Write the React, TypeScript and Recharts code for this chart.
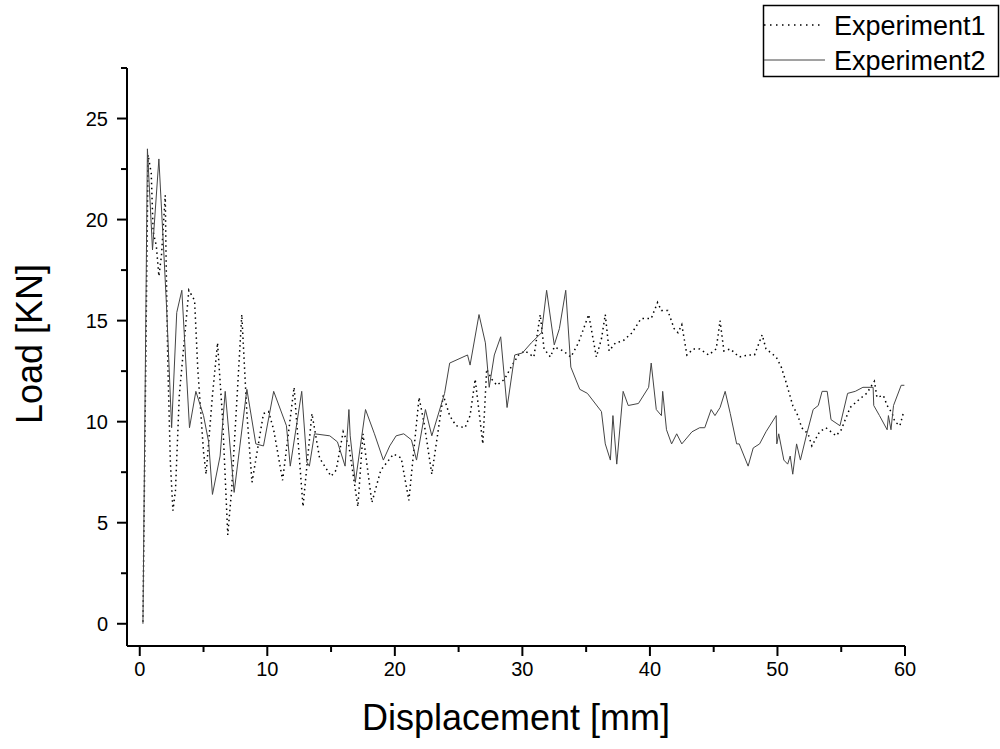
import React from "react";
import { Label, Line, LineChart, XAxis, YAxis } from "recharts";

// Experiment1 (dotted)
const exp1X = [
  0.25, 0.65, 0.9, 1.05, 1.3, 1.5, 1.7, 2.0, 2.05, 2.2, 2.4, 2.6, 2.8, 3.1, 3.85, 4.3, 4.55, 5.0, 5.2, 5.7,
  6.1, 6.5, 6.9, 7.2, 7.6, 8.0, 8.4, 8.8, 9.2, 9.7, 10.1, 10.5, 11.2, 12.1, 12.8, 13.5, 14.1, 15.0, 15.4, 15.95,
  16.4, 17.1, 17.5, 18.2, 18.9, 19.9, 20.5, 21.1, 21.9, 22.3, 22.9, 23.8, 24.3, 24.8, 25.5, 25.9, 26.3, 26.9, 27.2, 27.6,
  28.0, 28.6, 29.2, 29.7, 30.2, 30.9, 31.4, 31.7, 32.2, 32.5, 33.2, 33.8, 34.4, 35.2, 35.4, 35.8, 36.2, 36.5, 36.8, 37.3,
  37.9, 38.6, 39.3, 40.1, 40.6, 40.9, 41.4, 41.9, 42.2, 42.5, 42.9, 43.4, 43.9, 44.6, 45.2, 45.5, 45.8, 46.3, 47.0, 47.7,
  48.2, 48.8, 49.1, 49.9, 50.3, 50.7, 51.2, 51.6, 51.9, 52.4, 52.7, 53.3, 53.8, 54.6, 55.0, 55.7, 56.4, 57.0, 57.6, 57.8,
  58.3, 58.6, 59.0, 59.2, 59.6, 59.9,
];
const exp1Y = [
  0.1, 23.2, 22.3, 19.4, 18.7, 17.2, 18.2, 21.2, 18.7, 12.9, 8.0, 5.6, 6.6, 11.3, 16.5, 16.0, 12.6, 8.5, 7.4, 11.3,
  13.9, 10.1, 4.4, 6.6, 10.9, 15.3, 10.4, 7.0, 8.5, 10.4, 10.5, 9.6, 7.1, 11.7, 5.8, 10.4, 8.2, 7.3, 7.6, 9.5,
  8.8, 5.8, 9.4, 6.0, 7.6, 8.4, 8.2, 6.1, 11.2, 9.9, 7.4, 11.3, 10.3, 9.8, 9.7, 10.3, 12.1, 8.9, 12.6, 12.1,
  11.8, 12.1, 12.8, 13.3, 13.5, 13.2, 15.3, 13.6, 13.2, 13.7, 13.5, 13.2, 13.9, 15.3, 14.6, 13.2, 14.1, 15.3, 13.5, 13.9,
  14.0, 14.4, 15.1, 15.1, 15.9, 15.5, 15.5, 14.6, 14.4, 14.8, 13.3, 13.6, 13.6, 13.3, 13.6, 15.0, 13.5, 13.6, 13.2, 13.3,
  13.3, 14.3, 13.6, 13.2, 12.7, 11.9, 10.8, 10.3, 9.7, 9.4, 8.8, 9.5, 9.7, 9.3, 9.6, 10.7, 11.1, 11.4, 12.0, 11.2,
  11.3, 10.8, 10.4, 10.0, 9.8, 10.5,
];

// Experiment2 (solid)
const exp2X = [
  0.25, 0.6, 1.0, 1.5, 1.9, 2.1, 2.5, 2.9, 3.3, 3.9, 4.4, 5.0, 5.4, 5.7, 6.3, 6.7, 7.4, 8.4, 9.1, 9.7,
  10.5, 11.5, 11.8, 12.7, 13.1, 13.3, 13.7, 14.9, 15.5, 16.1, 16.4, 16.5, 16.9, 17.7, 18.4, 19.1, 19.6, 20.1, 20.7, 21.3,
  21.7, 22.4, 22.9, 23.9, 24.3, 25.7, 25.9, 26.6, 27.1, 27.4, 27.8, 28.3, 28.8, 29.4, 30.0, 30.7, 31.5, 31.9, 32.5, 32.9,
  33.4, 33.8, 34.5, 35.1, 36.2, 36.5, 36.9, 37.1, 37.4, 37.9, 38.3, 39.1, 39.9, 40.1, 40.5, 40.9, 41.0, 41.3, 41.7, 42.1,
  42.5, 43.3, 43.9, 44.3, 44.8, 45.1, 45.5, 45.9, 46.3, 46.8, 47.0, 47.7, 48.1, 48.6, 49.1, 49.9, 49.95, 50.1, 50.5, 50.8,
  51.0, 51.2, 51.5, 51.8, 52.3, 52.8, 53.2, 53.5, 53.9, 54.2, 54.9, 55.5, 56.1, 56.7, 57.5, 57.55, 58.0, 58.6, 58.7, 58.9,
  59.1, 59.7, 59.95,
];
const exp2Y = [
  0, 23.5, 18.5, 23.0, 18.2, 15.7, 9.7, 15.4, 16.5, 9.7, 11.5, 10.3, 9.0, 6.4, 8.3, 11.5, 6.5, 11.6, 8.9, 8.8,
  11.5, 9.8, 7.8, 11.5, 8.0, 7.8, 9.4, 9.3, 9.0, 7.8, 10.6, 9.3, 7.0, 10.6, 9.4, 8.1, 8.8, 9.3, 9.4, 9.1,
  8.1, 10.6, 9.3, 11.4, 12.9, 13.3, 12.8, 15.3, 13.9, 11.7, 13.3, 14.2, 10.7, 13.3, 13.4, 13.9, 14.4, 16.5, 13.8, 14.6,
  16.5, 12.7, 11.6, 11.4, 10.5, 8.9, 8.1, 10.3, 7.9, 11.5, 10.8, 10.9, 11.7, 12.9, 10.6, 10.3, 11.5, 9.6, 8.9, 9.4,
  8.9, 9.5, 9.7, 9.7, 10.6, 10.3, 10.7, 11.5, 10.4, 8.9, 8.9, 7.8, 8.7, 8.9, 9.5, 10.3, 8.9, 9.4, 8.1, 7.9,
  8.3, 7.4, 8.9, 8.1, 9.4, 10.6, 10.8, 11.5, 11.5, 10.1, 9.8, 11.4, 11.5, 11.7, 11.7, 10.8, 10.3, 9.6, 10.3, 9.6,
  10.8, 11.8, 11.8,
];

const xTicks = [0, 5, 10, 15, 20, 25, 30, 35, 40, 45, 50, 55, 60];
const yTicks = [0, 2.5, 5, 7.5, 10, 12.5, 15, 17.5, 20, 22.5, 25, 27.5];

const exp1 = exp1X.map((x, i) => ({ x, y: exp1Y[i] }));
const exp2 = exp2X.map((x, i) => ({ x, y: exp2Y[i] }));

const FONT = "'Liberation Sans', Arial, sans-serif";

const XTick = ({ x, y, payload }: any) => {
  const major = payload.value % 10 === 0;
  return (
    <g>
      <line x1={x} y1={y} x2={x} y2={y + (major ? 10 : 6)} stroke="#000" strokeWidth={2} />
      {major && (
        <text x={x} y={y + 30} textAnchor="middle" fontSize={20} fontFamily={FONT} fill="#000">
          {payload.value}
        </text>
      )}
    </g>
  );
};

const YTick = ({ x, y, payload }: any) => {
  const major = payload.value % 5 === 0;
  return (
    <g>
      <line x1={x} y1={y} x2={x - (major ? 10 : 6)} y2={y} stroke="#000" strokeWidth={2} />
      {major && (
        <text x={x - 19} y={y} dy="0.36em" textAnchor="end" fontSize={20} fontFamily={FONT} fill="#000">
          {payload.value}
        </text>
      )}
    </g>
  );
};

export default function App() {
  return (
    <div style={{ position: "absolute", left: 0, top: 0, width: 1000, height: 749, background: "#fff" }}>
      <LineChart width={1000} height={749} margin={{ top: 68, right: 95, bottom: 43, left: 67 }}>
        <XAxis
          type="number"
          dataKey="x"
          domain={[-1, 60]}
          ticks={xTicks}
          interval={0}
          height={60}
          tickSize={0}
          tickMargin={0}
          tickLine={false}
          tick={<XTick />}
          axisLine={{ stroke: "#000", strokeWidth: 2 }}
          allowDataOverflow
        >
          <Label
            content={({ viewBox }: any) => (
              <text
                x={viewBox.x + viewBox.width / 2}
                y={viewBox.y + 84}
                textAnchor="middle"
                fontSize={36}
                fontFamily={FONT}
                fill="#000"
              >
                Displacement [mm]
              </text>
            )}
          />
        </XAxis>
        <YAxis
          type="number"
          domain={[-1.1, 27.5]}
          ticks={yTicks}
          interval={0}
          width={60}
          tickSize={0}
          tickMargin={0}
          tickLine={false}
          tick={<YTick />}
          axisLine={{ stroke: "#000", strokeWidth: 2 }}
          allowDataOverflow
        >
          <Label
            content={({ viewBox }: any) => {
              const cx = viewBox.x - 25;
              const cy = viewBox.y + viewBox.height / 2 - 13;
              return (
                <text
                  x={cx}
                  y={cy}
                  transform={`rotate(-90 ${cx} ${cy})`}
                  textAnchor="middle"
                  fontSize={36}
                  fontFamily={FONT}
                  fill="#000"
                >
                  Load [KN]
                </text>
              );
            }}
          />
        </YAxis>
        <Line
          data={exp1}
          dataKey="y"
          type="linear"
          stroke="#000"
          strokeWidth={1.5}
          strokeDasharray="1.5 3.5"
          dot={false}
          isAnimationActive={false}
        />
        <Line
          data={exp2}
          dataKey="y"
          type="linear"
          stroke="#444"
          strokeWidth={1}
          dot={false}
          isAnimationActive={false}
        />
      </LineChart>
      <svg width={240} height={80} style={{ position: "absolute", left: 760, top: 0 }}>
        <rect x={3.5} y={5.5} width={235} height={71} fill="#fff" stroke="#000" strokeWidth={1.5} />
        <line x1={4} y1={25} x2={63} y2={25} stroke="#000" strokeWidth={1.5} strokeDasharray="1.5 4.5" />
        <text x={74} y={35} fontSize={27} fontFamily={FONT} fill="#000">Experiment1</text>
        <line x1={4} y1={60} x2={65} y2={60} stroke="#444" strokeWidth={1} />
        <text x={74} y={70} fontSize={27} fontFamily={FONT} fill="#000">Experiment2</text>
      </svg>
    </div>
  );
}
